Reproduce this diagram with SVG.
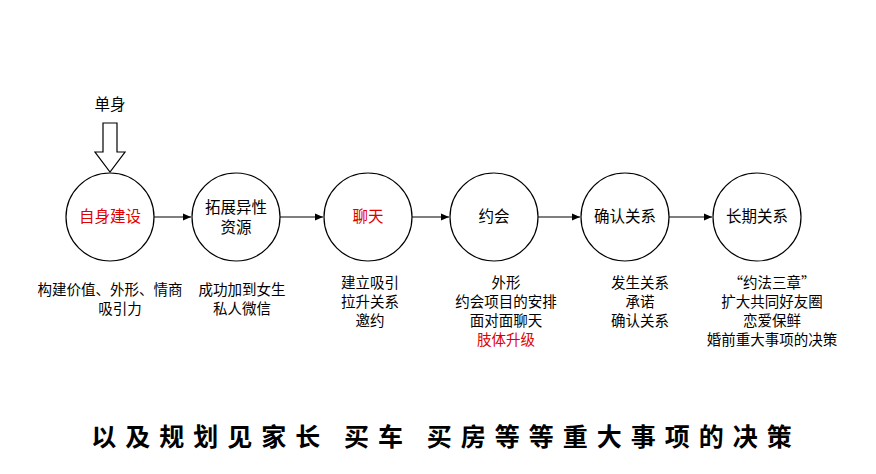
<svg xmlns="http://www.w3.org/2000/svg" width="876" height="474" viewBox="0 0 876 474">
<defs><marker id="ah" markerWidth="8" markerHeight="8" refX="8" refY="4" orient="auto" markerUnits="userSpaceOnUse"><path d="M0,0.5 L8,4 L0,7.5 Z" fill="#000"/></marker></defs>
<style>
text{font-family:"Noto Sans CJK SC","Noto Sans",sans-serif;font-size:14.5px;fill:#000;text-anchor:middle}
.n{font-size:15.5px}
.r{fill:#e00000}
circle{fill:#fff;stroke:#000;stroke-width:1.2}
.c line{stroke:#000;stroke-width:1.2;marker-end:url(#ah)}
</style>
<rect width="876" height="474" fill="#fff"/>
<text x="110" y="110" class="n">单身</text>
<path d="M103,123 H117 V152 H125 L110,172 L95,152 H103 Z" fill="#fff" stroke="#000" stroke-width="1.2"/>
<g class="c">
<line x1="154" y1="217" x2="191" y2="217"/>
<line x1="280" y1="217" x2="323" y2="217"/>
<line x1="412" y1="217" x2="449" y2="217"/>
<line x1="538" y1="217" x2="580" y2="217"/>
<line x1="669" y1="217" x2="712" y2="217"/>
</g>
<g id="n1"><circle cx="110" cy="217" r="44"/><text x="110" y="222" class="n r">自身建设</text>
<text x="110" y="295">构建价值、外形、情商</text><text x="120" y="314">吸引力</text></g>
<g id="n2"><circle cx="236" cy="217" r="44"/><text x="236" y="213" class="n">拓展异性</text><text x="236" y="233" class="n">资源</text>
<text x="242" y="295">成功加到女生</text><text x="242" y="314">私人微信</text></g>
<g id="n3"><circle cx="368" cy="217" r="44"/><text x="368" y="222" class="n r">聊天</text>
<text x="370" y="288">建立吸引</text><text x="370" y="307">拉升关系</text><text x="370" y="326">邀约</text></g>
<g id="n4"><circle cx="494" cy="217" r="44"/><text x="494" y="222" class="n">约会</text>
<text x="506" y="288">外形</text><text x="506" y="307">约会项目的安排</text><text x="506" y="326">面对面聊天</text><text x="506" y="345" class="r">肢体升级</text></g>
<g id="n5"><circle cx="625" cy="217" r="44"/><text x="625" y="222" class="n">确认关系</text>
<text x="640" y="288">发生关系</text><text x="640" y="307">承诺</text><text x="640" y="326">确认关系</text></g>
<g id="n6"><circle cx="757" cy="217" r="44"/><text x="757" y="222" class="n">长期关系</text>
<text x="772" y="288">“约法三章”</text><text x="772" y="307">扩大共同好友圈</text><text x="772" y="326">恋爱保鲜</text><text x="772" y="345">婚前重大事项的决策</text></g>
<text x="446" y="446" style="font-size:25px;font-weight:bold;letter-spacing:9px">以及规划见家长 买车 买房等等重大事项的决策</text>
</svg>
